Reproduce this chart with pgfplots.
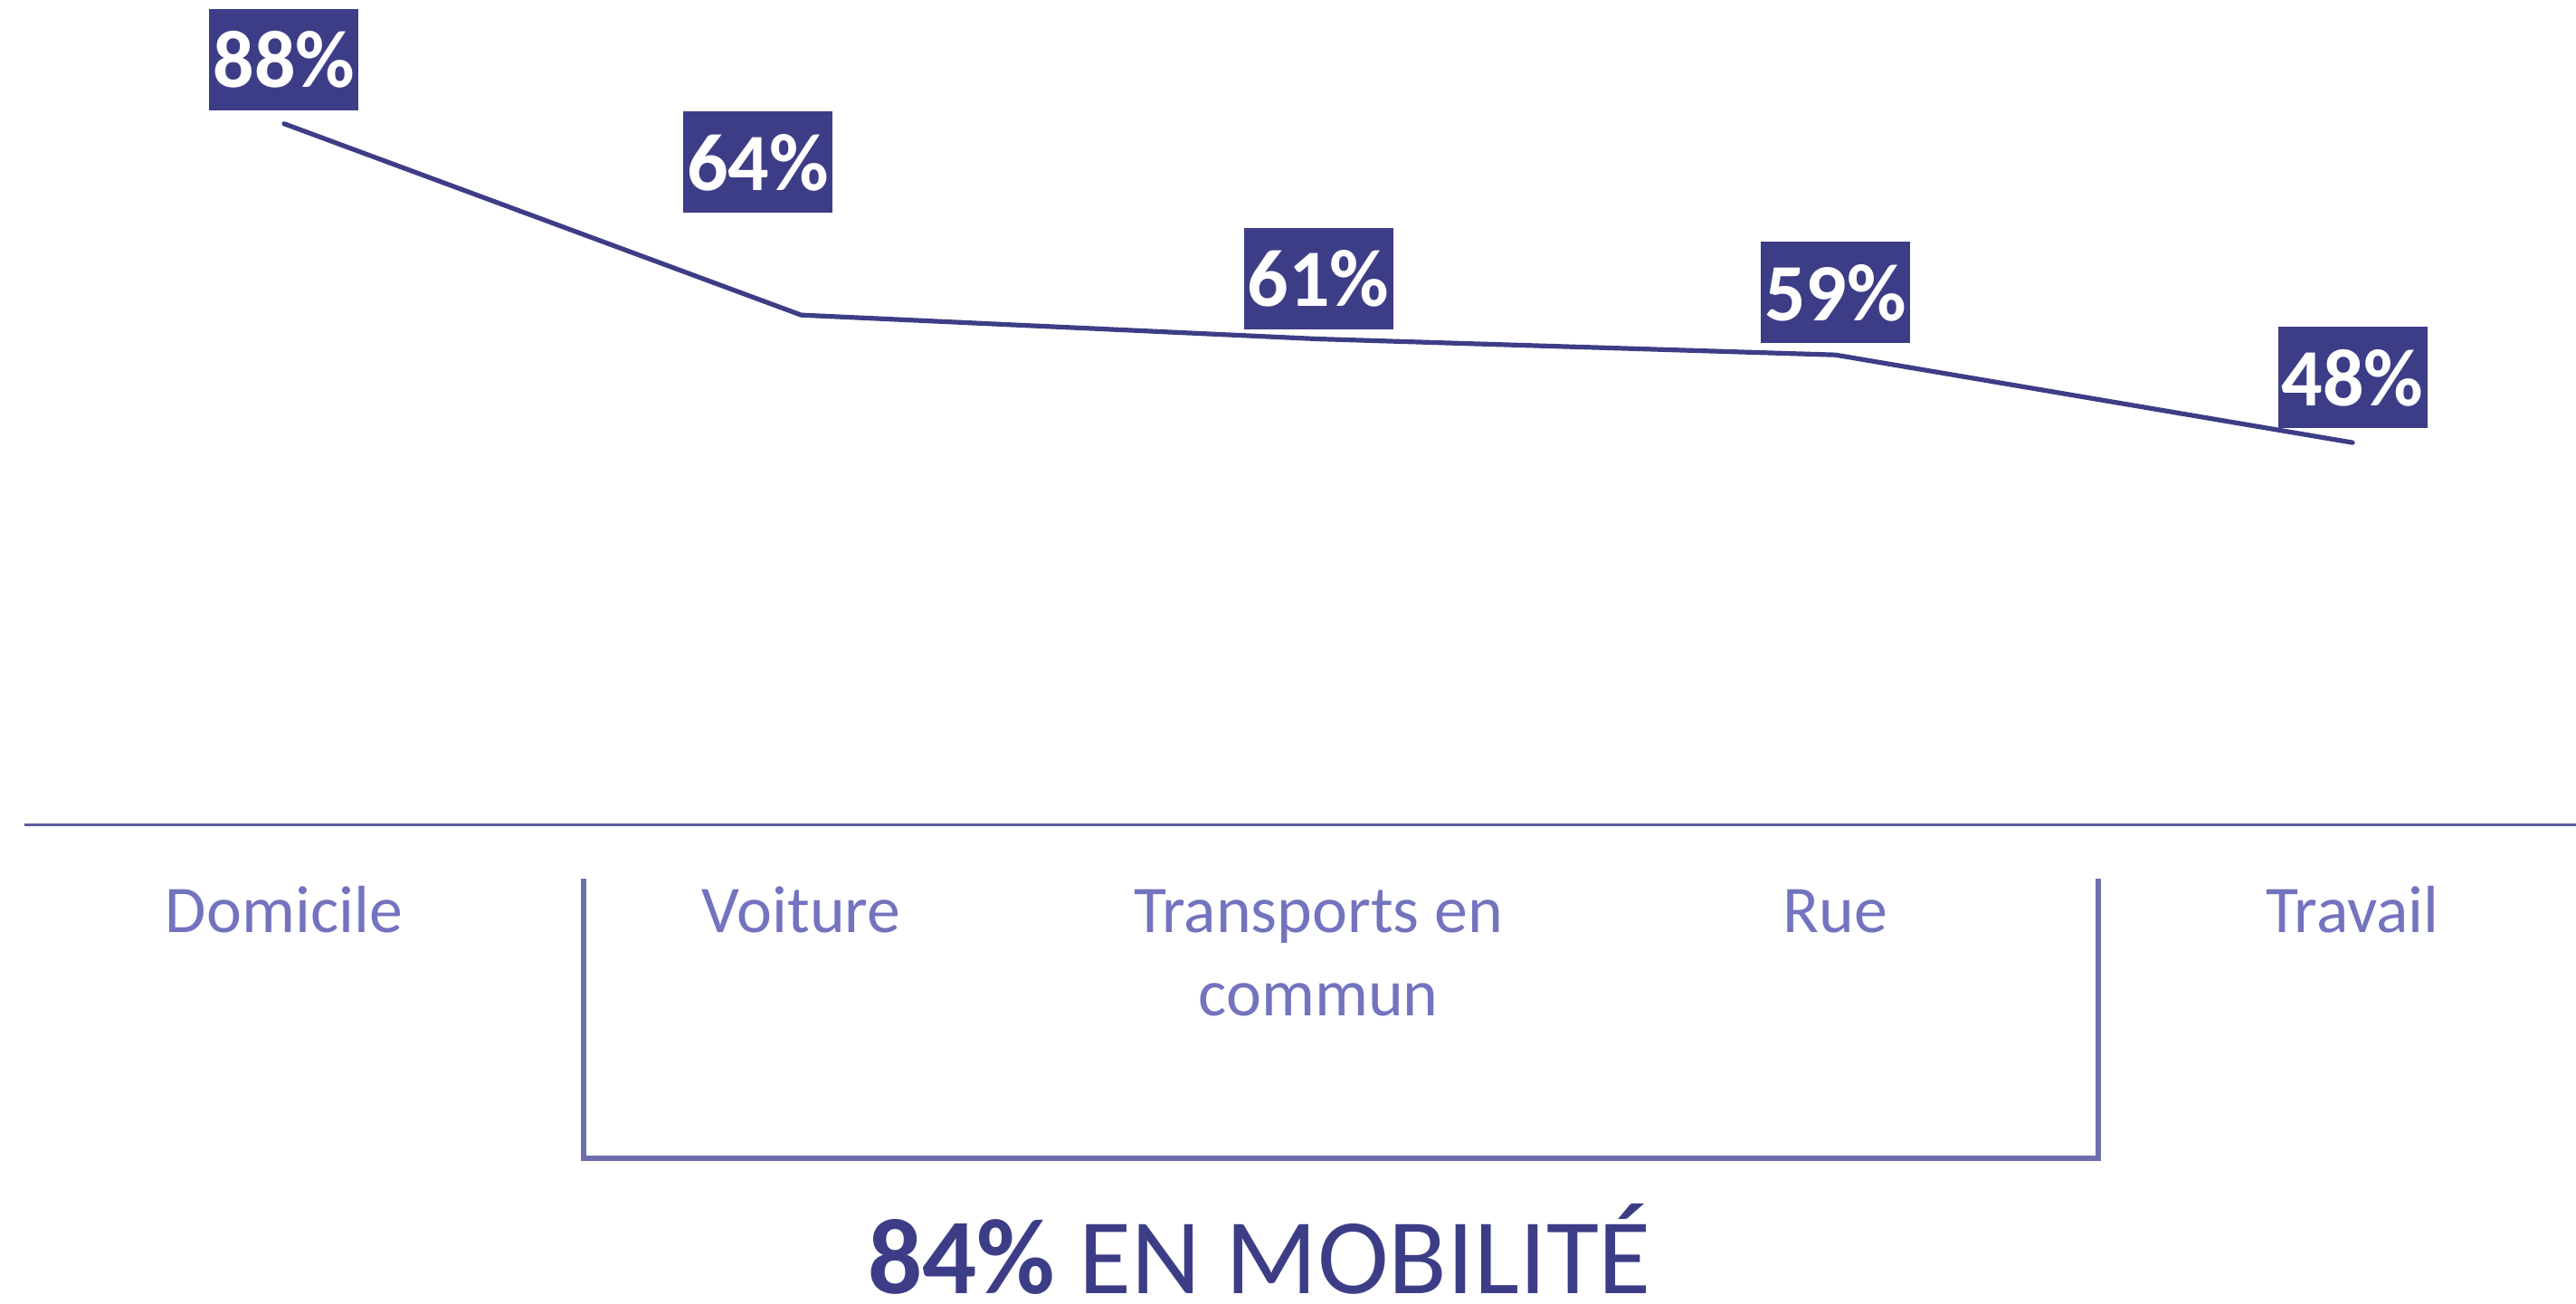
\documentclass[border=0pt]{standalone}
\usepackage{pgfplots}
\pgfplotsset{compat=1.18}
\usepackage{fontspec}
\setmainfont{Carlito}

\definecolor{navy}{HTML}{3D3D87}
\definecolor{labelcol}{HTML}{7373BF}
\definecolor{axiscol}{HTML}{5A5AA2}
\definecolor{bracketcol}{HTML}{6E6EAE}

\begin{document}
\begin{tikzpicture}
\begin{axis}[
    at={(0.27cm,5.29cm)}, anchor=south west,
    scale only axis, width=28.20cm, height=8.81cm,
    xmin=-0.502, xmax=4.432, ymin=0, ymax=100,
    axis x line=bottom, axis y line=none,
    axis line style={-, draw=axiscol, line width=0.03cm},
    xtick={0,1,2,3,4},
    xticklabels={Domicile, Voiture,
        {\begin{tabular}[t]{@{}c@{}}Transports en\\commun\end{tabular}},
        Rue, Travail},
    major tick length=0pt,
    ytick=\empty,
    xticklabel style={font=\fontsize{21}{26}\selectfont, text=labelcol,
        anchor=base, yshift=-1.19cm},
    clip=false,
]
\addplot[navy, line width=0.052cm, line cap=round, line join=round]
    coordinates {(0,88) (1,64) (2,61) (3,59) (4,48)};

\tikzset{lbl/.style={fill=navy, text=white, anchor=south,
    minimum width=1.65cm, minimum height=1.12cm, inner sep=0pt,
    font=\fontsize{25.6}{30}\selectfont\bfseries}}
\node[lbl, yshift=0.14cm] at (axis cs:0,88) {88\%};
\node[lbl, yshift=1.12cm, xshift=-0.48cm] at (axis cs:1,64) {64\%};
\node[lbl, yshift=0.10cm] at (axis cs:2,61) {61\%};
\node[lbl, yshift=0.12cm] at (axis cs:3,59) {59\%};
\node[lbl, yshift=0.15cm] at (axis cs:4,48) {48\%};
\end{axis}

\draw[bracketcol, line width=0.06cm] (6.45,4.70) -- (6.45,1.61) -- (23.19,1.61) -- (23.19,4.70);
\node[anchor=base, text=navy, inner sep=0pt, font=\fontsize{33.8}{40}\selectfont]
    at (13.92,0.11) {\textbf{84\%} EN MOBILITÉ};

\pgfresetboundingbox
\path[use as bounding box] (0,0) rectangle (28.47,14.41);
\end{tikzpicture}
\end{document}
